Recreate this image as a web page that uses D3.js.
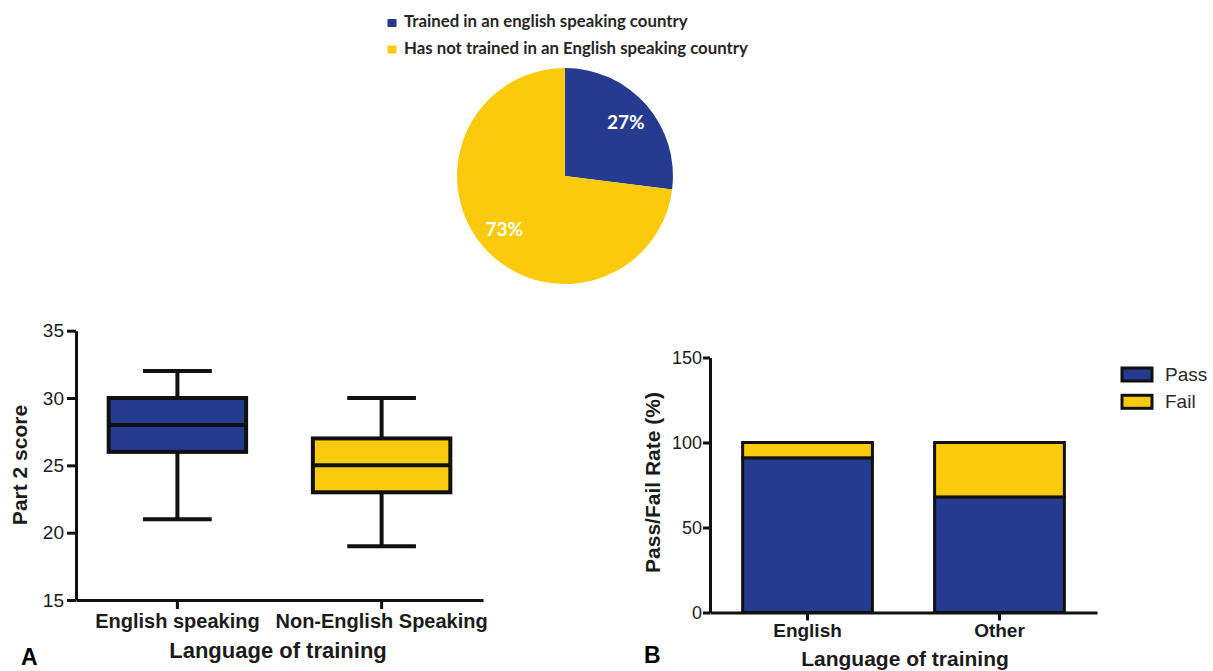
<!DOCTYPE html>
<html><head><meta charset="utf-8">
<script src="https://cdn.jsdelivr.net/npm/d3@7"></script>
<style>
body{margin:0;background:#fff}
svg{display:block}
text{font-family:"Liberation Sans",Arial,sans-serif;fill:#1b1b1b}
</style>
</head><body>
<svg id="chart" width="1213" height="671"></svg>
<script>
// Country of training (pie)
const pieLabels = ["Trained in an english speaking country", "Has not trained in an English speaking country"];
const pieValues = [27, 73];

// Part 2 score by language of training (box plot)
const boxGroups = ["English speaking", "Non-English Speaking"];
const boxMin = [21, 19];
const boxQ1 = [26, 23];
const boxMedian = [28, 25];
const boxQ3 = [30, 27];
const boxMax = [32, 30];
const boxTicks = [15, 20, 25, 30, 35];

// Pass/fail rate by language of training (stacked bars)
const barGroups = ["English", "Other"];
const barSeries = ["Pass", "Fail"];
const passRate = [91, 68];
const failRate = [9, 32];
const barTicks = [0, 50, 100, 150];

const BLUE = "#243b90", YELLOW = "#fbca0b", INK = "#111";
const svg = d3.select("#chart");

/* ---------- pie ---------- */
const pieColors = [BLUE, YELLOW];
const pieG = svg.append("g").attr("transform", "translate(565,176)");
const R = 108;
const arcs = d3.pie().sort(null)(pieValues);
const arc = d3.arc().innerRadius(0).outerRadius(R);
const labelArc = d3.arc().innerRadius(81).outerRadius(81);
pieG.selectAll("path.slice").data(arcs).join("path")
  .attr("class", "slice").attr("d", arc).attr("fill", (d, i) => pieColors[i]);
pieG.selectAll("text.pct").data(arcs).join("text")
  .attr("class", "pct")
  .attr("transform", d => `translate(${labelArc.centroid(d)})`)
  .attr("text-anchor", "middle").attr("dy", "0.36em")
  .style("font-family", "Lato, 'Open Sans', sans-serif")
  .style("font-weight", "bold").style("font-size", "19px").style("fill", "#fff")
  .text(d => d.data + "%");

const pieLeg = svg.append("g");
pieLabels.forEach((lab, i) => {
  const y = [27, 53.5][i];
  pieLeg.append("rect").attr("x", 387.5).attr("y", y - 8).attr("width", 9).attr("height", 8)
    .attr("fill", pieColors[i]);
  pieLeg.append("text").attr("x", 404).attr("y", y)
    .style("font-family", "Lato, 'Open Sans', sans-serif")
    .style("font-weight", "bold").style("font-size", "16.8px").style("fill", "#262626")
    .text(lab);
});

/* ---------- panel A: box plot ---------- */
const xA = d3.scaleBand().domain(boxGroups).range([76, 483]).paddingInner(0.327).paddingOuter(0.16);
const yA = d3.scaleLinear().domain([15, 35]).range([600, 330.7]);
const gA = svg.append("g");

const boxes = boxGroups.map((g, i) => ({g, min: boxMin[i], q1: boxQ1[i], med: boxMedian[i], q3: boxQ3[i], max: boxMax[i], c: pieColors[i]}));
const bw = xA.bandwidth();
boxes.forEach(b => {
  const cx = xA(b.g) + bw / 2;
  const grp = gA.append("g").attr("stroke", INK).attr("stroke-width", 4);
  grp.append("line").attr("x1", cx).attr("x2", cx).attr("y1", yA(b.max)).attr("y2", yA(b.q3));
  grp.append("line").attr("x1", cx).attr("x2", cx).attr("y1", yA(b.q1)).attr("y2", yA(b.min));
  grp.append("line").attr("x1", cx - bw / 4).attr("x2", cx + bw / 4).attr("y1", yA(b.max)).attr("y2", yA(b.max));
  grp.append("line").attr("x1", cx - bw / 4).attr("x2", cx + bw / 4).attr("y1", yA(b.min)).attr("y2", yA(b.min));
  grp.append("rect").attr("x", xA(b.g)).attr("y", yA(b.q3)).attr("width", bw)
    .attr("height", yA(b.q1) - yA(b.q3)).attr("fill", b.c);
  grp.append("line").attr("x1", xA(b.g)).attr("x2", xA(b.g) + bw).attr("y1", yA(b.med)).attr("y2", yA(b.med));
});

const axA_y = gA.append("g").attr("transform", "translate(76,0)")
  .call(d3.axisLeft(yA).tickValues(boxTicks).tickSize(9).tickSizeOuter(0).tickPadding(3));
const axA_x = gA.append("g").attr("transform", "translate(0,600)")
  .call(d3.axisBottom(xA).tickSize(9).tickSizeOuter(0));
[axA_y, axA_x].forEach(a => {
  a.select(".domain").attr("stroke", INK).attr("stroke-width", 3);
  a.selectAll(".tick line").attr("stroke", INK).attr("stroke-width", 3);
});
axA_y.selectAll("text").style("font-size", "19px").style("fill", "#1b1b1b");
axA_x.selectAll("text").attr("y", 28).attr("dy", 0)
  .style("font-size", "20px").style("font-weight", "bold").style("fill", "#1b1b1b");

gA.append("text").attr("transform", "translate(27,465) rotate(-90)").attr("text-anchor", "middle")
  .style("font-size", "21px").style("font-weight", "bold").text("Part 2 score");
gA.append("text").attr("x", 278).attr("y", 658).attr("text-anchor", "middle")
  .style("font-size", "22px").style("font-weight", "bold").text("Language of training");
gA.append("text").attr("x", 21).attr("y", 665)
  .style("font-size", "23px").style("font-weight", "bold").style("fill", "#000").text("A");

/* ---------- panel B: stacked bars ---------- */
const xB = d3.scaleBand().domain(barGroups).range([710, 1097]).paddingInner(0.324).paddingOuter(0.17);
const yB = d3.scaleLinear().domain([0, 150]).range([612.5, 357.5]);
const gB = svg.append("g");
const barRows = barGroups.map((g, i) => ({group: g, Pass: passRate[i], Fail: failRate[i]}));
const stacked = d3.stack().keys(barSeries)(barRows);
const barColors = {Pass: BLUE, Fail: YELLOW};

gB.selectAll("g.layer").data(stacked).join("g").attr("class", "layer")
  .attr("fill", d => barColors[d.key])
  .selectAll("rect").data(d => d).join("rect")
  .attr("x", d => xB(d.data.group)).attr("width", xB.bandwidth())
  .attr("y", d => yB(d[1])).attr("height", d => yB(d[0]) - yB(d[1]))
  .attr("stroke", INK).attr("stroke-width", 3);

const axB_y = gB.append("g").attr("transform", "translate(710,0)")
  .call(d3.axisLeft(yB).tickValues(barTicks).tickSize(7).tickSizeOuter(0).tickPadding(1));
const axB_x = gB.append("g").attr("transform", "translate(0,612.5)")
  .call(d3.axisBottom(xB).tickSize(8).tickSizeOuter(0));
[axB_y, axB_x].forEach(a => {
  a.select(".domain").attr("stroke", INK).attr("stroke-width", 3);
  a.selectAll(".tick line").attr("stroke", INK).attr("stroke-width", 3);
});
axB_y.selectAll("text").style("font-size", "18px").style("fill", "#1b1b1b");
axB_x.selectAll("text").attr("y", 24).attr("dy", 0)
  .style("font-size", "19px").style("font-weight", "bold").style("fill", "#1b1b1b");

gB.append("text").attr("transform", "translate(660,482.5) rotate(-90)").attr("text-anchor", "middle")
  .style("font-size", "21px").style("font-weight", "bold").text("Pass/Fail Rate (%)");
gB.append("text").attr("x", 905).attr("y", 666).attr("text-anchor", "middle")
  .style("font-size", "21px").style("font-weight", "bold").text("Language of training");
gB.append("text").attr("x", 644).attr("y", 663)
  .style("font-size", "23px").style("font-weight", "bold").style("fill", "#000").text("B");

// legend
barSeries.forEach((s, i) => {
  const cy = [374.5, 401.8][i];
  gB.append("rect").attr("x", 1122).attr("y", cy - 6.5).attr("width", 30).attr("height", 13)
    .attr("fill", barColors[s]).attr("stroke", INK).attr("stroke-width", 3);
  gB.append("text").attr("x", 1165).attr("y", cy + 6.5)
    .style("font-size", "19px").style("fill", "#2a2a2a").text(s);
});
</script>
</body></html>
